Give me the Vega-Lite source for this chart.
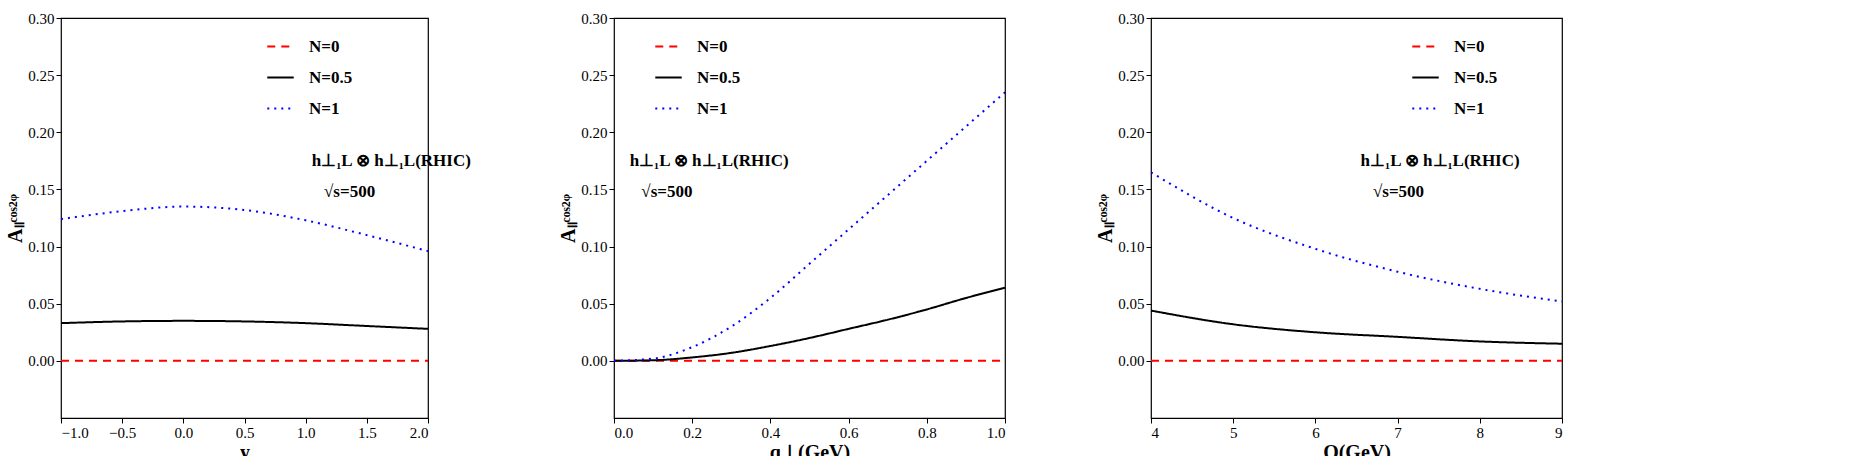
{
"$schema":"https://vega.github.io/schema/vega-lite/v6.json",
"background":"white",
"padding":{"left":5,"top":10,"right":5,"bottom":2},
"spacing":85,
"datasets":{
"curves":[
{"p":1,"x":-1,"N":"N=0","v":0},{"p":1,"x":2,"N":"N=0","v":0},
{"p":1,"x":-1,"N":"N=0.5","v":0.033},{"p":1,"x":-0.5,"N":"N=0.5","v":0.0345},{"p":1,"x":0,"N":"N=0.5","v":0.035},{"p":1,"x":0.5,"N":"N=0.5","v":0.0345},{"p":1,"x":1,"N":"N=0.5","v":0.033},{"p":1,"x":1.5,"N":"N=0.5","v":0.0305},{"p":1,"x":2,"N":"N=0.5","v":0.028},
{"p":1,"x":-1,"N":"N=1","v":0.124},{"p":1,"x":-0.5,"N":"N=1","v":0.131},{"p":1,"x":0,"N":"N=1","v":0.135},{"p":1,"x":0.5,"N":"N=1","v":0.132},{"p":1,"x":1,"N":"N=1","v":0.123},{"p":1,"x":1.5,"N":"N=1","v":0.11},{"p":1,"x":2,"N":"N=1","v":0.096},
{"p":2,"x":0,"N":"N=0","v":0},{"p":2,"x":1,"N":"N=0","v":0},
{"p":2,"x":0,"N":"N=0.5","v":0},{"p":2,"x":0.1,"N":"N=0.5","v":0.0005},{"p":2,"x":0.2,"N":"N=0.5","v":0.003},{"p":2,"x":0.3,"N":"N=0.5","v":0.007},{"p":2,"x":0.4,"N":"N=0.5","v":0.013},{"p":2,"x":0.5,"N":"N=0.5","v":0.02},{"p":2,"x":0.6,"N":"N=0.5","v":0.028},{"p":2,"x":0.7,"N":"N=0.5","v":0.036},{"p":2,"x":0.8,"N":"N=0.5","v":0.045},{"p":2,"x":0.9,"N":"N=0.5","v":0.055},{"p":2,"x":1,"N":"N=0.5","v":0.064},
{"p":2,"x":0,"N":"N=1","v":0},{"p":2,"x":0.1,"N":"N=1","v":0.002},{"p":2,"x":0.2,"N":"N=1","v":0.012},{"p":2,"x":0.3,"N":"N=1","v":0.03},{"p":2,"x":0.4,"N":"N=1","v":0.055},{"p":2,"x":0.5,"N":"N=1","v":0.085},{"p":2,"x":0.6,"N":"N=1","v":0.115},{"p":2,"x":0.7,"N":"N=1","v":0.145},{"p":2,"x":0.8,"N":"N=1","v":0.175},{"p":2,"x":0.9,"N":"N=1","v":0.205},{"p":2,"x":1,"N":"N=1","v":0.235},
{"p":3,"x":4,"N":"N=0","v":0},{"p":3,"x":9,"N":"N=0","v":0},
{"p":3,"x":4,"N":"N=0.5","v":0.044},{"p":3,"x":5,"N":"N=0.5","v":0.032},{"p":3,"x":6,"N":"N=0.5","v":0.025},{"p":3,"x":7,"N":"N=0.5","v":0.021},{"p":3,"x":8,"N":"N=0.5","v":0.017},{"p":3,"x":9,"N":"N=0.5","v":0.015},
{"p":3,"x":4,"N":"N=1","v":0.165},{"p":3,"x":5,"N":"N=1","v":0.125},{"p":3,"x":6,"N":"N=1","v":0.098},{"p":3,"x":7,"N":"N=1","v":0.078},{"p":3,"x":8,"N":"N=1","v":0.063},{"p":3,"x":9,"N":"N=1","v":0.052}
],
"notes":[
{"p":1,"x":1.05,"y":0.175,"t":"h⊥₁L ⊗ h⊥₁L(RHIC)"},{"p":1,"x":1.15,"y":0.148,"t":"√s=500"},
{"p":2,"x":0.04,"y":0.175,"t":"h⊥₁L ⊗ h⊥₁L(RHIC)"},{"p":2,"x":0.07,"y":0.148,"t":"√s=500"},
{"p":3,"x":6.55,"y":0.175,"t":"h⊥₁L ⊗ h⊥₁L(RHIC)"},{"p":3,"x":6.7,"y":0.148,"t":"√s=500"}
]},
"resolve":{"legend":{"color":"independent","strokeDash":"independent"},"scale":{"x":"independent"}},
"hconcat":[
{"width":367,"height":400,"layer":[
{"data":{"name":"curves"},"transform":[{"filter":"datum.p==1"}],"mark":{"type":"line","strokeWidth":2,"interpolate":"monotone"},
"encoding":{"x":{"field":"x","type":"quantitative","scale":{"domain":[-1,2]},"axis":{"title":"y","values":[-1,-0.5,0,0.5,1,1.5,2],"format":".1f"}},
"y":{"field":"v","type":"quantitative","scale":{"domain":[-0.025,0.3]},"axis":{"title":"Aₗₗᶜᵒˢ²ᵠ","values":[0,0.05,0.1,0.15,0.2,0.25,0.3],"format":".2f"}},
"color":{"field":"N","type":"nominal","scale":{"domain":["N=0","N=0.5","N=1"],"range":["#ff0000","#000000","#0000ff"]},"legend":{"orient":"none","legendX":205,"legendY":14}},
"strokeDash":{"field":"N","type":"nominal","scale":{"domain":["N=0","N=0.5","N=1"],"range":[[8,6],[1,0],[2,5]]},"legend":{"orient":"none","legendX":205,"legendY":14}}}},
{"data":{"name":"notes"},"transform":[{"filter":"datum.p==1"}],"mark":{"type":"text","align":"left","font":"Liberation Serif","fontWeight":"bold","fontSize":17},
"encoding":{"x":{"field":"x","type":"quantitative"},"y":{"field":"y","type":"quantitative"},"text":{"field":"t"}}}
]},
{"width":391,"height":400,"layer":[
{"data":{"name":"curves"},"transform":[{"filter":"datum.p==2"}],"mark":{"type":"line","strokeWidth":2,"interpolate":"monotone"},
"encoding":{"x":{"field":"x","type":"quantitative","scale":{"domain":[0,1]},"axis":{"title":"q⊥(GeV)","values":[0,0.2,0.4,0.6,0.8,1],"format":".1f"}},
"y":{"field":"v","type":"quantitative","scale":{"domain":[-0.025,0.3]},"axis":{"title":"Aₗₗᶜᵒˢ²ᵠ","values":[0,0.05,0.1,0.15,0.2,0.25,0.3],"format":".2f"}},
"color":{"field":"N","type":"nominal","scale":{"domain":["N=0","N=0.5","N=1"],"range":["#ff0000","#000000","#0000ff"]},"legend":{"orient":"none","legendX":40,"legendY":14}},
"strokeDash":{"field":"N","type":"nominal","scale":{"domain":["N=0","N=0.5","N=1"],"range":[[8,6],[1,0],[2,5]]},"legend":{"orient":"none","legendX":40,"legendY":14}}}},
{"data":{"name":"notes"},"transform":[{"filter":"datum.p==2"}],"mark":{"type":"text","align":"left","font":"Liberation Serif","fontWeight":"bold","fontSize":17},
"encoding":{"x":{"field":"x","type":"quantitative"},"y":{"field":"y","type":"quantitative"},"text":{"field":"t"}}}
]},
{"width":411,"height":400,"layer":[
{"data":{"name":"curves"},"transform":[{"filter":"datum.p==3"}],"mark":{"type":"line","strokeWidth":2,"interpolate":"monotone"},
"encoding":{"x":{"field":"x","type":"quantitative","scale":{"domain":[4,9]},"axis":{"title":"Q(GeV)","values":[4,5,6,7,8,9],"format":"d"}},
"y":{"field":"v","type":"quantitative","scale":{"domain":[-0.025,0.3]},"axis":{"title":"Aₗₗᶜᵒˢ²ᵠ","values":[0,0.05,0.1,0.15,0.2,0.25,0.3],"format":".2f"}},
"color":{"field":"N","type":"nominal","scale":{"domain":["N=0","N=0.5","N=1"],"range":["#ff0000","#000000","#0000ff"]},"legend":{"orient":"none","legendX":260,"legendY":14}},
"strokeDash":{"field":"N","type":"nominal","scale":{"domain":["N=0","N=0.5","N=1"],"range":[[8,6],[1,0],[2,5]]},"legend":{"orient":"none","legendX":260,"legendY":14}}}},
{"data":{"name":"notes"},"transform":[{"filter":"datum.p==3"}],"mark":{"type":"text","align":"left","font":"Liberation Serif","fontWeight":"bold","fontSize":17},
"encoding":{"x":{"field":"x","type":"quantitative"},"y":{"field":"y","type":"quantitative"},"text":{"field":"t"}}}
]}
],
"config":{
"font":"Liberation Serif",
"view":{"stroke":"black","strokeWidth":1.2},
"axis":{"grid":false,"domain":false,"tickColor":"black","tickSize":5,"labelPadding":2,"titlePadding":2,"labelFont":"Liberation Serif","labelFontSize":15,"labelColor":"black","titleFont":"Liberation Serif","titleFontSize":20,"titleFontWeight":"bold","titleColor":"black"},
"legend":{"title":null,"symbolType":"stroke","symbolSize":700,"symbolStrokeWidth":2,"labelFont":"Liberation Serif","labelFontSize":17,"labelFontWeight":"bold","labelColor":"black","rowPadding":8,"symbolOffset":0,"labelOffset":14}
}
}
